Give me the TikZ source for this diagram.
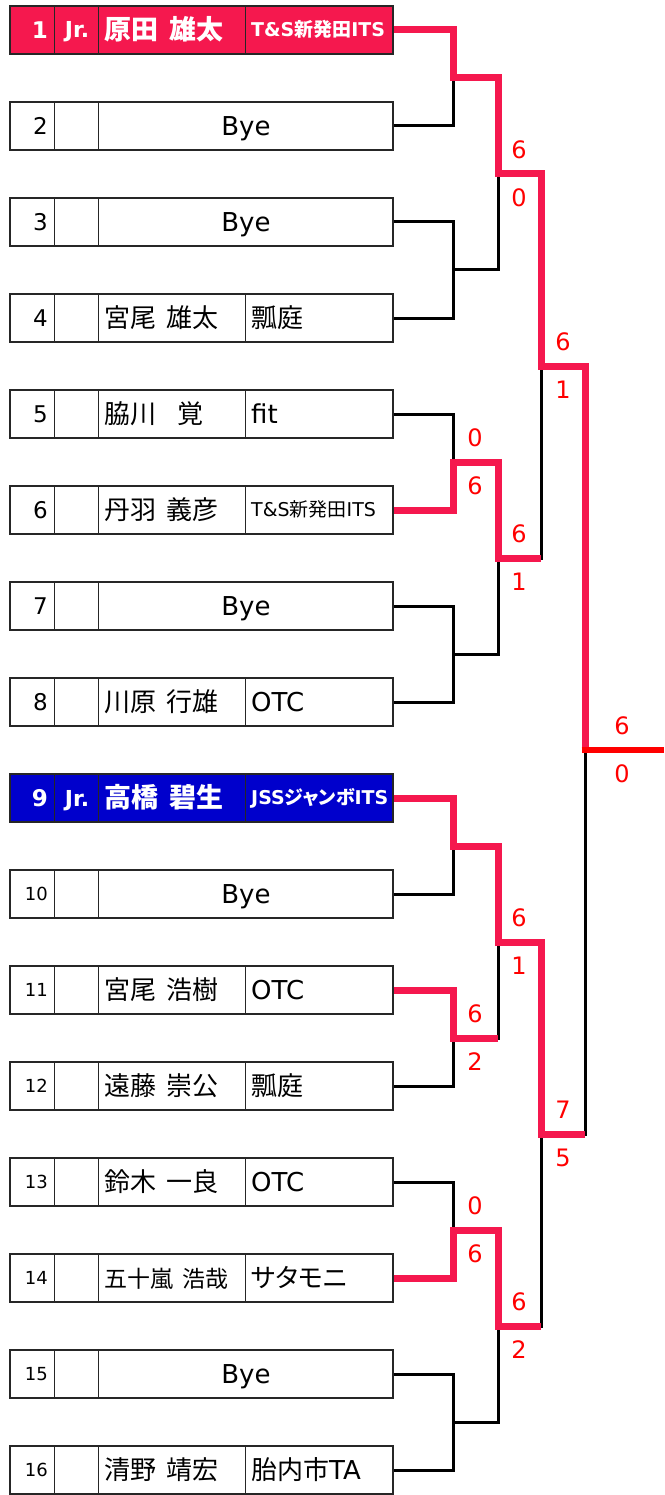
\documentclass[tikz,border=0pt]{standalone}
\usepackage{fontspec}
\setmainfont{DejaVu Sans}
\newfontfamily\jp[WordSpace=1.8]{Noto Sans CJK JP}
\newfontfamily\jpkana[RawFeature=+palt]{Noto Sans CJK JP}
\definecolor{winred}{RGB}{245,24,78}
\definecolor{seedblue}{RGB}{0,0,204}
\definecolor{scorered}{RGB}{255,0,0}

\begin{document}
\begin{tikzpicture}[x=1pt, y=-1pt,
        entry/.style={draw=black!85, line width=1.2pt, minimum width=383pt, minimum height=48pt, inner sep=0pt},
        cell/.style={draw=black!85, line width=1.2pt},
        num/.style={anchor=east, inner sep=0pt, text height=16.8pt, text depth=0pt, font=\fontsize{23}{27}\selectfont},
        smallnum/.style={anchor=east, inner sep=0pt, text height=13.1pt, text depth=0pt, font=\fontsize{18}{21}\selectfont},
        junior/.style={inner sep=0pt, text height=16pt, text depth=0pt, text=white, font=\bfseries\fontsize{22}{26}\selectfont},
        player/.style={anchor=west, inner sep=0pt, text height=19pt, text depth=0pt, font=\jp\fontsize{26}{30}\selectfont},
        club/.style={anchor=west, inner sep=0pt, text height=19pt, text depth=0pt, font=\fontsize{26}{30}\selectfont},
        smallclub/.style={anchor=west, inner sep=0pt, text height=13.9pt, text depth=0pt, font=\fontsize{19}{23}\selectfont},
        bye/.style={inner sep=0pt, text height=19pt, text depth=0pt, font=\fontsize{26}{30}\selectfont},
        line/.style={line width=3pt},
        win/.style={draw=winred, line width=7pt},
        score/.style={inner sep=0pt, text height=17.5pt, text depth=0pt, text=scorered, font=\fontsize{24}{28}\selectfont}]
    \useasboundingbox (0,0) rectangle (664,1495);

    \node[entry, fill=winred] (e1) at (201.5,30) {};
    \node[entry] (e2) at (201.5,126) {};
    \node[entry] (e3) at (201.5,222) {};
    \node[entry] (e4) at (201.5,318) {};
    \node[entry] (e5) at (201.5,414) {};
    \node[entry] (e6) at (201.5,510) {};
    \node[entry] (e7) at (201.5,606) {};
    \node[entry] (e8) at (201.5,702) {};
    \node[entry, fill=seedblue] (e9) at (201.5,798) {};
    \node[entry] (e10) at (201.5,894) {};
    \node[entry] (e11) at (201.5,990) {};
    \node[entry] (e12) at (201.5,1086) {};
    \node[entry] (e13) at (201.5,1182) {};
    \node[entry] (e14) at (201.5,1278) {};
    \node[entry] (e15) at (201.5,1374) {};
    \node[entry] (e16) at (201.5,1470) {};

    \foreach \i in {1,...,16} {
        \draw[cell] ([xshift=45pt]e\i.north west) -- ([xshift=45pt]e\i.south west);
        \draw[cell] ([xshift=89pt]e\i.north west) -- ([xshift=89pt]e\i.south west);
    }
    \foreach \i in {1,4,5,6,8,9,11,12,13,14,16}
        \draw[cell] ([xshift=236pt]e\i.north west) -- ([xshift=236pt]e\i.south west);

    \node[num, text=white] (n1) at (48,30) {\bfseries 1};
    \node[junior] (jr1) at (77,30) {Jr.};
    \node[player, text=white] (p1) at (104,30) {\bfseries\fontsize{27}{31}\selectfont 原田 雄太};
    \node[smallclub, text=white] (c1) at (251,30) {\bfseries T\&S{\jp 新発田}ITS};

    \node[num] (n2) at (48,126) {2};
    \node[bye] (b2) at (246,126) {Bye};

    \node[num] (n3) at (48,222) {3};
    \node[bye] (b3) at (246,222) {Bye};

    \node[num] (n4) at (48,318) {4};
    \node[player] (p4) at (104,318) {宮尾 雄太};
    \node[club] (c4) at (251,318) {\jp 瓢庭};

    \node[num] (n5) at (48,414) {5};
    \node[player] (p5) at (104,414) {脇川~~覚};
    \node[club] (c5) at (251,414) {fit};

    \node[num] (n6) at (48,510) {6};
    \node[player] (p6) at (104,510) {丹羽 義彦};
    \node[smallclub] (c6) at (251,510) {T\&S{\jp 新発田}ITS};

    \node[num] (n7) at (48,606) {7};
    \node[bye] (b7) at (246,606) {Bye};

    \node[num] (n8) at (48,702) {8};
    \node[player] (p8) at (104,702) {川原 行雄};
    \node[club] (c8) at (251,702) {OTC};

    \node[num, text=white] (n9) at (48,798) {\bfseries 9};
    \node[junior] (jr9) at (77,798) {Jr.};
    \node[player, text=white] (p9) at (104,798) {\bfseries\fontsize{27}{31}\selectfont 高橋 碧生};
    \node[smallclub, text=white] (c9) at (251,798) {\bfseries JSS{\jpkana ジャンボ}ITS};

    \node[smallnum] (n10) at (48,894) {10};
    \node[bye] (b10) at (246,894) {Bye};

    \node[smallnum] (n11) at (48,990) {11};
    \node[player] (p11) at (104,990) {宮尾 浩樹};
    \node[club] (c11) at (251,990) {OTC};

    \node[smallnum] (n12) at (48,1086) {12};
    \node[player] (p12) at (104,1086) {遠藤 崇公};
    \node[club] (c12) at (251,1086) {\jp 瓢庭};

    \node[smallnum] (n13) at (48,1182) {13};
    \node[player] (p13) at (104,1182) {鈴木 一良};
    \node[club] (c13) at (251,1182) {OTC};

    \node[smallnum] (n14) at (48,1278) {14};
    \node[player] (p14) at (104,1278) {\fontsize{23}{27}\selectfont 五十嵐 浩哉};
    \node[club] (c14) at (251,1278) {\jpkana サタモニ};

    \node[smallnum] (n15) at (48,1374) {15};
    \node[bye] (b15) at (246,1374) {Bye};

    \node[smallnum] (n16) at (48,1470) {16};
    \node[player] (p16) at (104,1470) {清野 靖宏};
    \node[club] (c16) at (251,1470) {{\jp 胎内市}TA};

    \coordinate (j1) at (453,78);
    \coordinate (j2) at (453,270);
    \coordinate (j3) at (453,462);
    \coordinate (j4) at (453,654);
    \coordinate (j5) at (453,846);
    \coordinate (j6) at (453,1038);
    \coordinate (j7) at (453,1230);
    \coordinate (j8) at (453,1422);
    \coordinate (k1) at (498,174);
    \coordinate (k2) at (498,558);
    \coordinate (k3) at (498,942);
    \coordinate (k4) at (498,1326);
    \coordinate (l1) at (541,366);
    \coordinate (l2) at (541,1134);
    \coordinate (f) at (585,750);
    \coordinate (fe) at (664,750);

    \draw[line] (e1.east) -| (j1) |- (e2.east);
    \draw[line] (e3.east) -| (j2) |- (e4.east);
    \draw[line] (e5.east) -| (j3) |- (e6.east);
    \draw[line] (e7.east) -| (j4) |- (e8.east);
    \draw[line] (e9.east) -| (j5) |- (e10.east);
    \draw[line] (e11.east) -| (j6) |- (e12.east);
    \draw[line] (e13.east) -| (j7) |- (e14.east);
    \draw[line] (e15.east) -| (j8) |- (e16.east);
    \draw[line] (j1) -| (k1) |- (j2);
    \draw[line] (j3) -| (k2) |- (j4);
    \draw[line] (j5) -| (k3) |- (j6);
    \draw[line] (j7) -| (k4) |- (j8);
    \draw[line] (k1) -| (l1) |- (k2);
    \draw[line] (k3) -| (l2) |- (k4);
    \draw[line] (l1) -| (f) |- (l2);

    \draw[win] (e1.east) -| (j1) -| (k1) -| (l1) -| (f);
    \draw[win] (e6.east) -| (j3) -| (k2) -- (k2 -| l1);
    \draw[win] (e9.east) -| (j5) -| (k3) -| (l2) -- (l2 -| f);
    \draw[win] (e11.east) -| (j6) -- (j6 -| k3);
    \draw[win] (e14.east) -| (j7) -| (k4) -- (k4 -| l2);
    \draw[scorered, line width=6pt] ([xshift=-3.5pt]f) -- (fe);

    \node[score] (s3a) at (475,438) {0};
    \node[score] (s3b) at (475,486) {6};
    \node[score] (s6a) at (475,1014) {6};
    \node[score] (s6b) at (475,1062) {2};
    \node[score] (s7a) at (475,1206) {0};
    \node[score] (s7b) at (475,1254) {6};
    \node[score] (t1a) at (519,150) {6};
    \node[score] (t1b) at (519,198) {0};
    \node[score] (t2a) at (519,534) {6};
    \node[score] (t2b) at (519,582) {1};
    \node[score] (t3a) at (519,918) {6};
    \node[score] (t3b) at (519,966) {1};
    \node[score] (t4a) at (519,1302) {6};
    \node[score] (t4b) at (519,1350) {2};
    \node[score] (u1a) at (563,342) {6};
    \node[score] (u1b) at (563,390) {1};
    \node[score] (u2a) at (563,1110) {7};
    \node[score] (u2b) at (563,1158) {5};
    \node[score] (fa) at (622,726) {6};
    \node[score] (fb) at (622,774) {0};
\end{tikzpicture}
\end{document}
